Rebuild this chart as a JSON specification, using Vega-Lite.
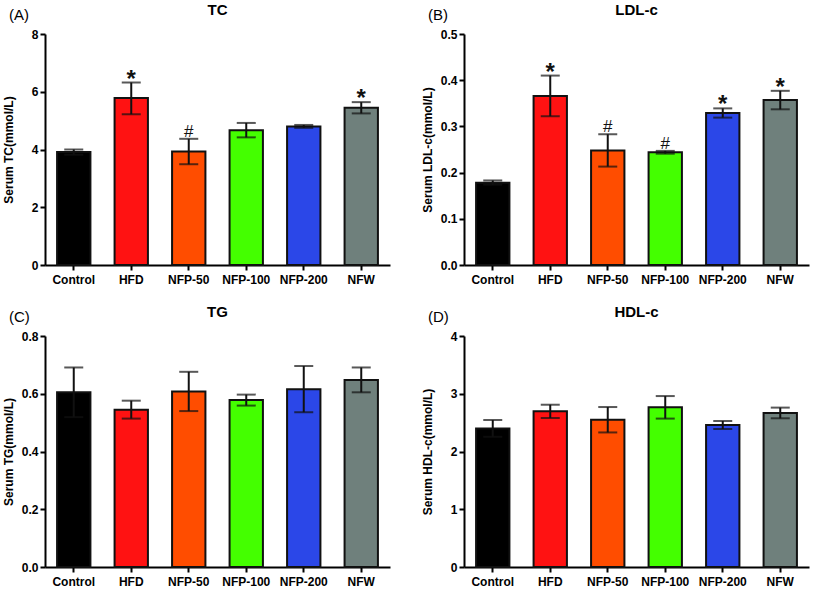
{
  "$schema": "https://vega.github.io/schema/vega-lite/v6.json",
  "background": "white",
  "padding": {"left": 2, "top": 3, "right": 2, "bottom": 2},
  "datasets": {
    "lipids": [
      {"panel": "A", "group": "Control", "mean": 3.91, "lo": 3.82, "hi": 4.0, "sig": ""},
      {"panel": "A", "group": "HFD", "mean": 5.78, "lo": 5.22, "hi": 6.32, "sig": "*"},
      {"panel": "A", "group": "NFP-50", "mean": 3.93, "lo": 3.49, "hi": 4.37, "sig": "#"},
      {"panel": "A", "group": "NFP-100", "mean": 4.67, "lo": 4.42, "hi": 4.92, "sig": ""},
      {"panel": "A", "group": "NFP-200", "mean": 4.80, "lo": 4.75, "hi": 4.85, "sig": ""},
      {"panel": "A", "group": "NFW", "mean": 5.45, "lo": 5.25, "hi": 5.64, "sig": "*"},
      {"panel": "B", "group": "Control", "mean": 0.178, "lo": 0.174, "hi": 0.183, "sig": ""},
      {"panel": "B", "group": "HFD", "mean": 0.366, "lo": 0.322, "hi": 0.410, "sig": "*"},
      {"panel": "B", "group": "NFP-50", "mean": 0.248, "lo": 0.213, "hi": 0.283, "sig": "#"},
      {"panel": "B", "group": "NFP-100", "mean": 0.244, "lo": 0.241, "hi": 0.247, "sig": "#"},
      {"panel": "B", "group": "NFP-200", "mean": 0.329, "lo": 0.319, "hi": 0.339, "sig": "*"},
      {"panel": "B", "group": "NFW", "mean": 0.357, "lo": 0.337, "hi": 0.377, "sig": "*"},
      {"panel": "C", "group": "Control", "mean": 0.605, "lo": 0.519, "hi": 0.691, "sig": ""},
      {"panel": "C", "group": "HFD", "mean": 0.545, "lo": 0.514, "hi": 0.576, "sig": ""},
      {"panel": "C", "group": "NFP-50", "mean": 0.608, "lo": 0.540, "hi": 0.676, "sig": ""},
      {"panel": "C", "group": "NFP-100", "mean": 0.578, "lo": 0.559, "hi": 0.597, "sig": ""},
      {"panel": "C", "group": "NFP-200", "mean": 0.616, "lo": 0.536, "hi": 0.696, "sig": ""},
      {"panel": "C", "group": "NFW", "mean": 0.648, "lo": 0.605, "hi": 0.691, "sig": ""},
      {"panel": "D", "group": "Control", "mean": 2.40, "lo": 2.255, "hi": 2.545, "sig": ""},
      {"panel": "D", "group": "HFD", "mean": 2.696, "lo": 2.58, "hi": 2.81, "sig": ""},
      {"panel": "D", "group": "NFP-50", "mean": 2.55, "lo": 2.33, "hi": 2.77, "sig": ""},
      {"panel": "D", "group": "NFP-100", "mean": 2.765, "lo": 2.57, "hi": 2.96, "sig": ""},
      {"panel": "D", "group": "NFP-200", "mean": 2.458, "lo": 2.39, "hi": 2.528, "sig": ""},
      {"panel": "D", "group": "NFW", "mean": 2.667, "lo": 2.575, "hi": 2.76, "sig": ""}
    ]
  },
  "columns": 2,
  "spacing": {"row": 20, "column": 31},
  "concat": [
    {
      "title": {"text": "(A)", "anchor": "start", "frame": "bounds", "fontWeight": "normal", "fontSize": 15, "font": "Liberation Sans", "color": "black", "dy": 24, "dx": 7},
      "vconcat": [{
        "width": 345, "height": 231,
        "title": {"text": "TC", "fontSize": 15, "fontWeight": "bold", "font": "Liberation Sans", "color": "black", "offset": 10},
        "data": {"name": "lipids"},
        "transform": [{"filter": "datum.panel === 'A'"}],
        "encoding": {
          "x": {"field": "group", "type": "nominal", "sort": ["Control", "HFD", "NFP-50", "NFP-100", "NFP-200", "NFW"], "scale": {"paddingInner": 0.42, "paddingOuter": 0.21}, "axis": {"title": null, "labelAngle": 0}}
        },
        "layer": [
          {"mark": {"type": "bar", "stroke": "#111", "strokeWidth": 2}, "encoding": {"y": {"field": "mean", "type": "quantitative", "scale": {"domain": [0, 8], "nice": false}, "axis": {"values": [0, 2, 4, 6, 8]}, "title": "Serum TC(mmol/L)"}, "fill": {"field": "group", "type": "nominal", "scale": {"domain": ["Control", "HFD", "NFP-50", "NFP-100", "NFP-200", "NFW"], "range": ["#000000", "#ff1212", "#ff4d00", "#44ff00", "#2b47e8", "#6f807c"]}, "legend": null}}},
          {"mark": {"type": "rule", "strokeWidth": 2, "color": "#111"}, "encoding": {"y": {"field": "lo", "type": "quantitative", "title": "Serum TC(mmol/L)"}, "y2": {"field": "hi"}}},
          {"mark": {"type": "tick", "size": 19, "thickness": 2, "color": "#111"}, "encoding": {"y": {"field": "hi", "type": "quantitative", "title": "Serum TC(mmol/L)"}}},
          {"mark": {"type": "tick", "size": 19, "thickness": 2, "color": "#111"}, "encoding": {"y": {"field": "lo", "type": "quantitative", "title": "Serum TC(mmol/L)"}}},
          {"transform": [{"filter": "datum.sig === '*'"}], "mark": {"type": "text", "baseline": "alphabetic", "dy": 4, "fontSize": 24, "fontWeight": "bold", "font": "Liberation Sans", "color": "#111"}, "encoding": {"y": {"field": "hi", "type": "quantitative", "title": "Serum TC(mmol/L)"}, "text": {"field": "sig"}}},
          {"transform": [{"filter": "datum.sig === '#'"}], "mark": {"type": "text", "baseline": "alphabetic", "dy": -2, "fontSize": 17, "font": "Liberation Sans", "color": "#111"}, "encoding": {"y": {"field": "hi", "type": "quantitative", "title": "Serum TC(mmol/L)"}, "text": {"field": "sig"}}}
        ]
      }]
    },
    {
      "title": {"text": "(B)", "anchor": "start", "frame": "bounds", "fontWeight": "normal", "fontSize": 15, "font": "Liberation Sans", "color": "black", "dy": 24, "dx": 7},
      "vconcat": [{
        "width": 345, "height": 231,
        "title": {"text": "LDL-c", "fontSize": 15, "fontWeight": "bold", "font": "Liberation Sans", "color": "black", "offset": 10},
        "data": {"name": "lipids"},
        "transform": [{"filter": "datum.panel === 'B'"}],
        "encoding": {
          "x": {"field": "group", "type": "nominal", "sort": ["Control", "HFD", "NFP-50", "NFP-100", "NFP-200", "NFW"], "scale": {"paddingInner": 0.42, "paddingOuter": 0.21}, "axis": {"title": null, "labelAngle": 0}}
        },
        "layer": [
          {"mark": {"type": "bar", "stroke": "#111", "strokeWidth": 2}, "encoding": {"y": {"field": "mean", "type": "quantitative", "scale": {"domain": [0, 0.5], "nice": false}, "axis": {"values": [0, 0.1, 0.2, 0.3, 0.4, 0.5], "format": ".1f"}, "title": "Serum LDL-c(mmol/L)"}, "fill": {"field": "group", "type": "nominal", "scale": {"domain": ["Control", "HFD", "NFP-50", "NFP-100", "NFP-200", "NFW"], "range": ["#000000", "#ff1212", "#ff4d00", "#44ff00", "#2b47e8", "#6f807c"]}, "legend": null}}},
          {"mark": {"type": "rule", "strokeWidth": 2, "color": "#111"}, "encoding": {"y": {"field": "lo", "type": "quantitative", "title": "Serum LDL-c(mmol/L)"}, "y2": {"field": "hi"}}},
          {"mark": {"type": "tick", "size": 19, "thickness": 2, "color": "#111"}, "encoding": {"y": {"field": "hi", "type": "quantitative", "title": "Serum LDL-c(mmol/L)"}}},
          {"mark": {"type": "tick", "size": 19, "thickness": 2, "color": "#111"}, "encoding": {"y": {"field": "lo", "type": "quantitative", "title": "Serum LDL-c(mmol/L)"}}},
          {"transform": [{"filter": "datum.sig === '*'"}], "mark": {"type": "text", "baseline": "alphabetic", "dy": 4, "fontSize": 24, "fontWeight": "bold", "font": "Liberation Sans", "color": "#111"}, "encoding": {"y": {"field": "hi", "type": "quantitative", "title": "Serum LDL-c(mmol/L)"}, "text": {"field": "sig"}}},
          {"transform": [{"filter": "datum.sig === '#'"}], "mark": {"type": "text", "baseline": "alphabetic", "dy": -2, "fontSize": 17, "font": "Liberation Sans", "color": "#111"}, "encoding": {"y": {"field": "hi", "type": "quantitative", "title": "Serum LDL-c(mmol/L)"}, "text": {"field": "sig"}}}
        ]
      }]
    },
    {
      "title": {"text": "(C)", "anchor": "start", "frame": "bounds", "fontWeight": "normal", "fontSize": 15, "font": "Liberation Sans", "color": "black", "dy": 24, "dx": 7},
      "vconcat": [{
        "width": 345, "height": 231,
        "title": {"text": "TG", "fontSize": 15, "fontWeight": "bold", "font": "Liberation Sans", "color": "black", "offset": 10},
        "data": {"name": "lipids"},
        "transform": [{"filter": "datum.panel === 'C'"}],
        "encoding": {
          "x": {"field": "group", "type": "nominal", "sort": ["Control", "HFD", "NFP-50", "NFP-100", "NFP-200", "NFW"], "scale": {"paddingInner": 0.42, "paddingOuter": 0.21}, "axis": {"title": null, "labelAngle": 0}}
        },
        "layer": [
          {"mark": {"type": "bar", "stroke": "#111", "strokeWidth": 2}, "encoding": {"y": {"field": "mean", "type": "quantitative", "scale": {"domain": [0, 0.8], "nice": false}, "axis": {"values": [0, 0.2, 0.4, 0.6, 0.8], "format": ".1f"}, "title": "Serum TG(mmol/L)"}, "fill": {"field": "group", "type": "nominal", "scale": {"domain": ["Control", "HFD", "NFP-50", "NFP-100", "NFP-200", "NFW"], "range": ["#000000", "#ff1212", "#ff4d00", "#44ff00", "#2b47e8", "#6f807c"]}, "legend": null}}},
          {"mark": {"type": "rule", "strokeWidth": 2, "color": "#111"}, "encoding": {"y": {"field": "lo", "type": "quantitative", "title": "Serum TG(mmol/L)"}, "y2": {"field": "hi"}}},
          {"mark": {"type": "tick", "size": 19, "thickness": 2, "color": "#111"}, "encoding": {"y": {"field": "hi", "type": "quantitative", "title": "Serum TG(mmol/L)"}}},
          {"mark": {"type": "tick", "size": 19, "thickness": 2, "color": "#111"}, "encoding": {"y": {"field": "lo", "type": "quantitative", "title": "Serum TG(mmol/L)"}}}
        ]
      }]
    },
    {
      "title": {"text": "(D)", "anchor": "start", "frame": "bounds", "fontWeight": "normal", "fontSize": 15, "font": "Liberation Sans", "color": "black", "dy": 24, "dx": 7},
      "vconcat": [{
        "width": 345, "height": 231,
        "title": {"text": "HDL-c", "fontSize": 15, "fontWeight": "bold", "font": "Liberation Sans", "color": "black", "offset": 10},
        "data": {"name": "lipids"},
        "transform": [{"filter": "datum.panel === 'D'"}],
        "encoding": {
          "x": {"field": "group", "type": "nominal", "sort": ["Control", "HFD", "NFP-50", "NFP-100", "NFP-200", "NFW"], "scale": {"paddingInner": 0.42, "paddingOuter": 0.21}, "axis": {"title": null, "labelAngle": 0}}
        },
        "layer": [
          {"mark": {"type": "bar", "stroke": "#111", "strokeWidth": 2}, "encoding": {"y": {"field": "mean", "type": "quantitative", "scale": {"domain": [0, 4], "nice": false}, "axis": {"values": [0, 1, 2, 3, 4], "format": "d"}, "title": "Serum HDL-c(mmol/L)"}, "fill": {"field": "group", "type": "nominal", "scale": {"domain": ["Control", "HFD", "NFP-50", "NFP-100", "NFP-200", "NFW"], "range": ["#000000", "#ff1212", "#ff4d00", "#44ff00", "#2b47e8", "#6f807c"]}, "legend": null}}},
          {"mark": {"type": "rule", "strokeWidth": 2, "color": "#111"}, "encoding": {"y": {"field": "lo", "type": "quantitative", "title": "Serum HDL-c(mmol/L)"}, "y2": {"field": "hi"}}},
          {"mark": {"type": "tick", "size": 19, "thickness": 2, "color": "#111"}, "encoding": {"y": {"field": "hi", "type": "quantitative", "title": "Serum HDL-c(mmol/L)"}}},
          {"mark": {"type": "tick", "size": 19, "thickness": 2, "color": "#111"}, "encoding": {"y": {"field": "lo", "type": "quantitative", "title": "Serum HDL-c(mmol/L)"}}}
        ]
      }]
    }
  ],
  "config": {
    "view": {"stroke": null},
    "font": "Liberation Sans",
    "axis": {
      "grid": false,
      "domainColor": "#000000", "domainWidth": 2,
      "tickColor": "#000000", "tickWidth": 2, "tickSize": 5,
      "labelFont": "Liberation Sans", "labelFontSize": 12, "labelFontWeight": "bold", "labelColor": "#000000", "labelPadding": 2,
      "titleFont": "Liberation Sans", "titleFontSize": 12, "titleFontWeight": "bold", "titleColor": "#000000", "titlePadding": 12
    },
    "axisX": {"labelPadding": 4},
    "axisY": {"minExtent": 30, "maxExtent": 30, "titlePadding": 0}
  }
}
